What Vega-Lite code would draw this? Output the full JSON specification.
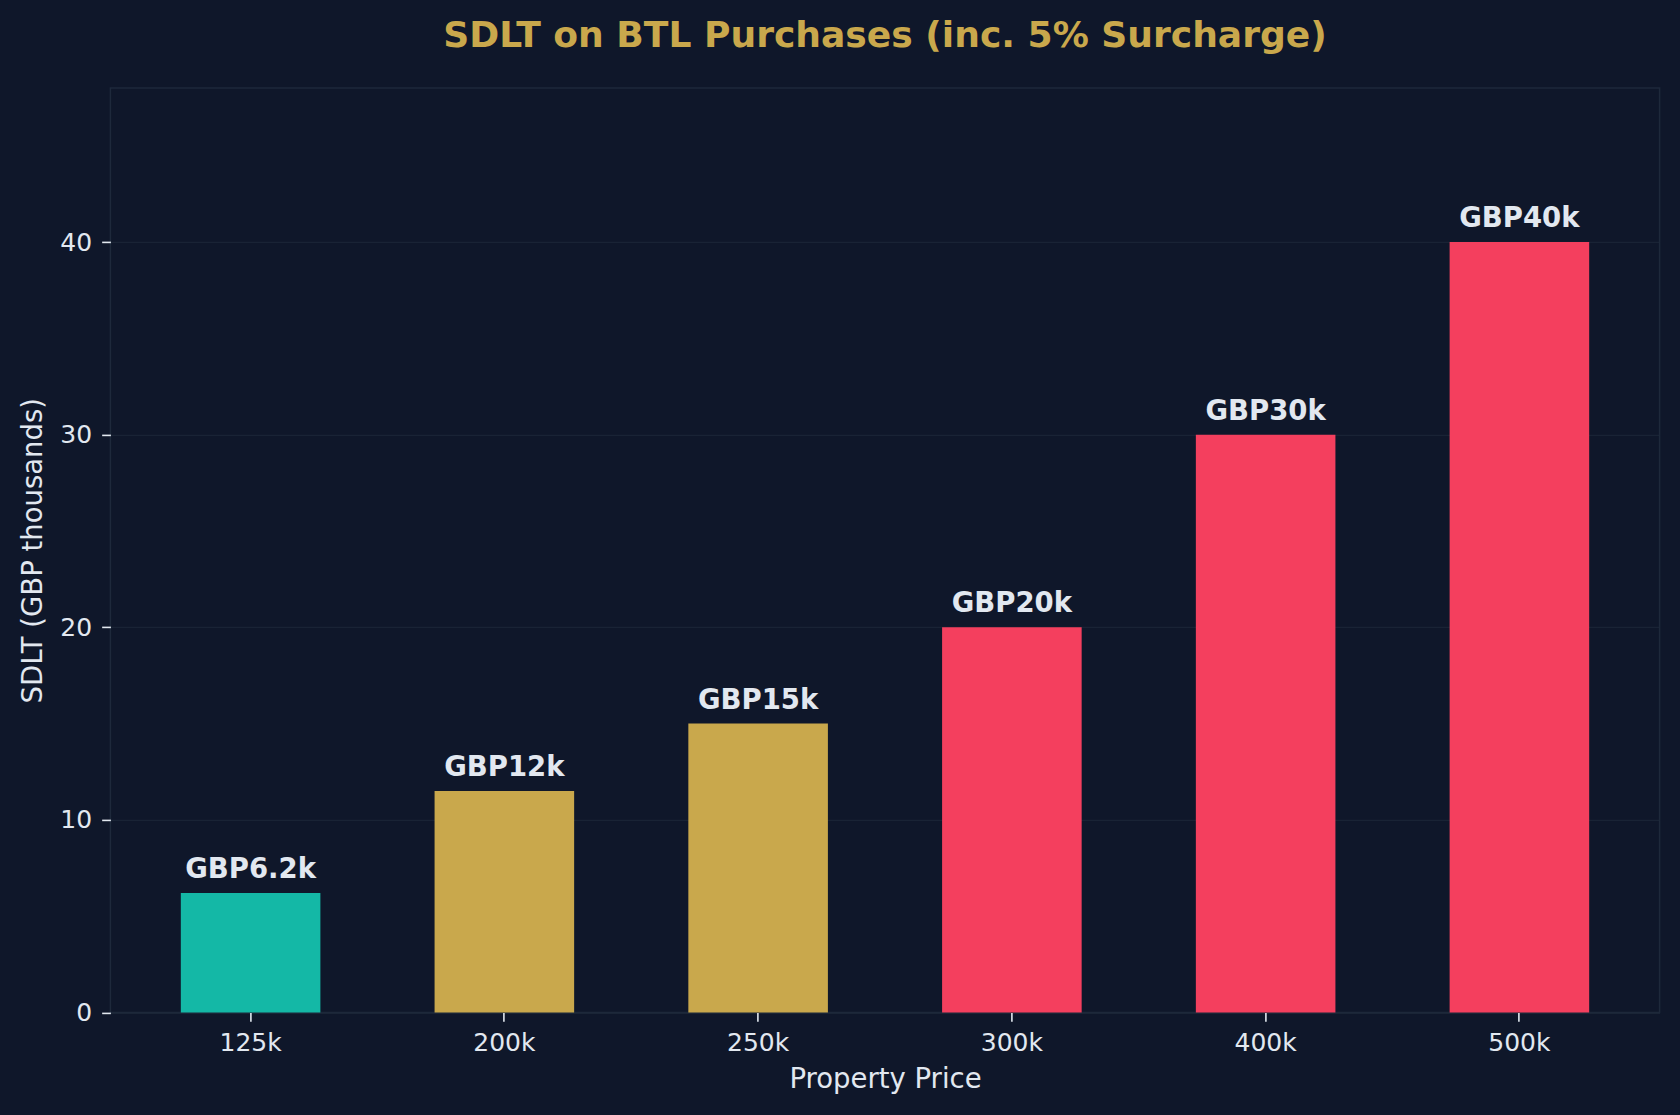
{
  "$schema": "https://vega.github.io/schema/vega-lite/v6.json",
  "autosize": {"type": "none"},
  "padding": {"left": 110.4, "top": 87.9, "right": 20.4, "bottom": 102.5},
  "width": 1549.2,
  "height": 924.6,
  "background": "#0f172a",
  "title": {
    "text": "SDLT on BTL Purchases (inc. 5% Surcharge)",
    "color": "#c9a84c",
    "font": "DejaVu Sans",
    "fontSize": 36.1,
    "fontWeight": "bold",
    "anchor": "middle",
    "baseline": "alphabetic",
    "offset": 5
  },
  "config": {
    "locale": {
      "number": {
        "decimal": ".",
        "thousands": ",",
        "grouping": [3],
        "currency": ["GBP", "k"]
      }
    },
    "view": {"stroke": "#1e293b", "strokeWidth": 1.5, "fill": "#0f172a"},
    "axis": {
      "labelFont": "DejaVu Sans",
      "labelFontSize": 25,
      "labelColor": "#e2e8f0",
      "titleFont": "DejaVu Sans",
      "titleFontSize": 27.5,
      "titleFontWeight": "normal",
      "titleColor": "#e2e8f0",
      "tickColor": "#e2e8f0",
      "tickSize": 8.75,
      "tickWidth": 1.6,
      "domain": false
    }
  },
  "data": {
    "values": [
      {"price": "125k", "sdlt": 6.2, "tier": "low"},
      {"price": "200k", "sdlt": 11.5, "tier": "mid"},
      {"price": "250k", "sdlt": 15, "tier": "mid"},
      {"price": "300k", "sdlt": 20, "tier": "high"},
      {"price": "400k", "sdlt": 30, "tier": "high"},
      {"price": "500k", "sdlt": 40, "tier": "high"}
    ]
  },
  "encoding": {
    "x": {
      "field": "price",
      "type": "nominal",
      "sort": null,
      "scale": {"paddingInner": 0.45, "paddingOuter": 0.2775},
      "axis": {
        "title": "Property Price",
        "labelAngle": 0,
        "labelPadding": 9,
        "titlePadding": 10,
        "grid": false
      }
    },
    "y": {
      "field": "sdlt",
      "type": "quantitative",
      "scale": {"domain": [0, 48], "nice": false},
      "axis": {
        "title": "SDLT (GBP thousands)",
        "values": [0, 10, 20, 30, 40],
        "labelPadding": 10,
        "titlePadding": 12,
        "grid": true,
        "gridColor": "#1e293b",
        "gridOpacity": 0.7,
        "gridWidth": 1.2
      }
    }
  },
  "layer": [
    {
      "mark": {"type": "bar"},
      "encoding": {
        "color": {
          "field": "tier",
          "type": "nominal",
          "scale": {"domain": ["low", "mid", "high"], "range": ["#14b8a6", "#c9a84c", "#f43f5e"]},
          "legend": null
        }
      }
    },
    {
      "mark": {
        "type": "text",
        "font": "DejaVu Sans",
        "fontSize": 27.5,
        "fontWeight": "bold",
        "color": "#e2e8f0",
        "baseline": "alphabetic",
        "dy": -15
      },
      "encoding": {
        "text": {"field": "sdlt", "type": "quantitative", "format": "$.2r"}
      }
    }
  ]
}
